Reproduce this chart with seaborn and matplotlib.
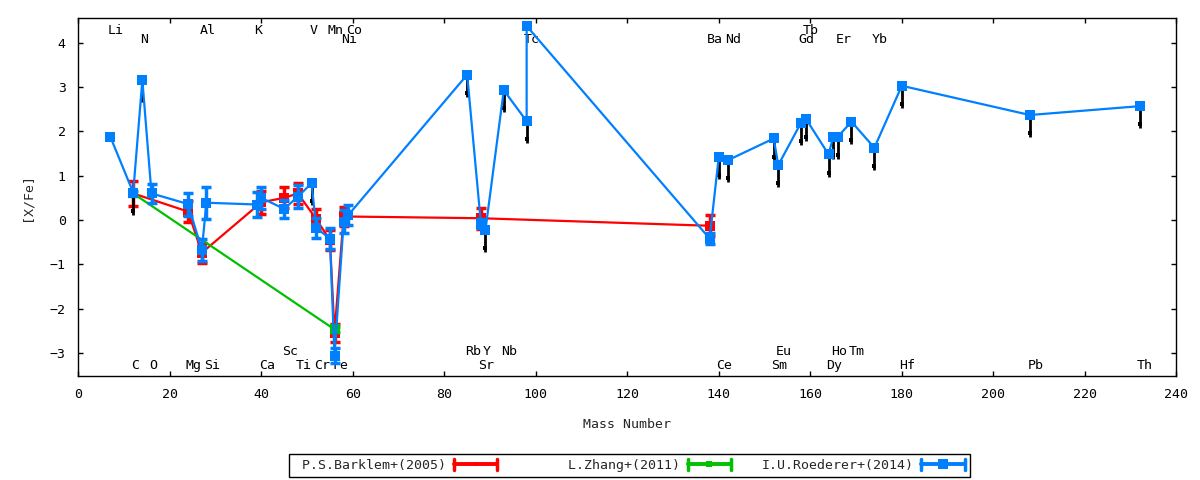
import numpy as np
import pandas as pd
import matplotlib
matplotlib.use("Agg")
import matplotlib.pyplot as plt
import matplotlib.transforms as mtransforms
from matplotlib.lines import Line2D
from matplotlib.legend_handler import HandlerBase
import seaborn as sns

# ---------------- data ----------------
# I.U.Roederer+(2014)
rod_elem = ["Li", "C", "N", "O", "Mg", "Al", "Si", "K", "Ca", "Sc", "Ti", "V", "Cr", "Mn",
            "Fe", "Ni", "Co", "Rb", "Sr", "Y", "Nb", "Mo", "Tc", "Ba", "Ce", "Nd", "Sm",
            "Eu", "Gd", "Tb", "Dy", "Ho", "Er", "Tm", "Yb", "Hf", "Pb", "Th"]
rod_mass = [7, 12, 14, 16, 24, 27, 28, 39, 40, 45, 48, 51, 52, 55,
            56, 58, 59, 85, 88, 89, 93, 98, 98, 138, 140, 142, 152,
            153, 158, 159, 164, 165, 166, 169, 174, 180, 208, 232]
rod_val = [1.88, 0.62, 3.16, 0.60, 0.36, -0.68, 0.39, 0.35, 0.50, 0.25, 0.53, 0.83, -0.18, -0.42,
           -3.06, -0.04, 0.11, 3.28, -0.08, -0.22, 2.93, 2.23, 4.38, -0.42, 1.43, 1.35, 1.84,
           1.24, 2.20, 2.29, 1.48, 1.88, 1.88, 2.22, 1.63, 3.03, 2.37, 2.57]
rod_err = [0, 0, 0, 0.21, 0.26, 0.24, 0.36, 0.28, 0.25, 0.20, 0.27, 0, 0.23, 0.24,
           0.17, 0.26, 0.22, 0, 0.10, 0, 0, 0, 0, 0.12, 0, 0, 0,
           0, 0, 0, 0, 0, 0, 0, 0, 0, 0, 0]
rod_upper = [False, True, True, False, False, False, False, False, False, False, False, True, False, False,
             False, False, False, True, False, True, True, True, False, False, True, True, True,
             True, True, True, True, True, True, True, True, True, True, True]

# P.S.Barklem+(2005)
bar_elem = ["C", "Mg", "Al", "Ca", "Sc", "Ti", "Cr", "Mn", "Fe", "Ni", "Sr", "Ba"]
bar_mass = [12, 24, 27, 40, 45, 48, 52, 55, 56, 58, 88, 138]
bar_val = [0.60, 0.19, -0.74, 0.40, 0.50, 0.60, 0.02, -0.45, -2.55, 0.08, 0.04, -0.13]
bar_err = [0.28, 0.24, 0.22, 0.26, 0.24, 0.24, 0.22, 0.22, 0.20, 0.22, 0.24, 0.24]

# L.Zhang+(2011)
zh_elem = ["C", "Fe"]
zh_mass = [12, 56]
zh_val = [0.60, -2.47]
zh_err = [0.05, 0.05]

# element labels (name, mass) in four rows
lab_top1 = ["Li", "Al", "K", "V", "Mn", "Co", "Tb"]
lab_top1_mass = [7, 27, 39, 51, 55, 59, 159]
lab_top2 = ["N", "Ni", "Tc", "Ba", "Nd", "Gd", "Er", "Yb"]
lab_top2_mass = [14, 58, 98, 138, 142, 158, 166, 174]
lab_bot1 = ["Sc", "Rb", "Y", "Nb", "Eu", "Ho", "Tm"]
lab_bot1_mass = [45, 85, 89, 93, 153, 165, 169]
lab_bot2 = ["C", "O", "Mg", "Si", "Ca", "Ti", "Cr", "Fe", "Sr", "Ce", "Sm", "Dy", "Hf", "Pb", "Th"]
lab_bot2_mass = [12, 16, 24, 28, 40, 48, 52, 56, 88, 140, 152, 164, 180, 208, 232]

legend_labels = ["P.S.Barklem+(2005)", "L.Zhang+(2011)", "I.U.Roederer+(2014)"]

# ---------------- style ----------------
sns.set_theme(style="ticks")
plt.rcParams["font.family"] = ["DejaVu Sans Mono"]
plt.rcParams["font.size"] = 9.5
FS = 9.5

RED = "#ff0000"
GREEN = "#00c000"
BLUE = "#0080ff"
ARROW_LEN = 0.5

fig = plt.figure(figsize=(12, 4.8), dpi=100)
ax = fig.add_axes([78.3 / 1200, (480 - 375.5) / 480, (1176.3 - 78.3) / 1200, (375.5 - 18) / 480])
ax.set_facecolor("white")


def draw_series(mass, val, err, color, z):
    df = pd.DataFrame({"mass": mass, "val": val})
    sns.lineplot(data=df, x="mass", y="val", sort=False, estimator=None, color=color,
                 lw=1.6, marker="s", markersize=7, markeredgewidth=0, ax=ax, zorder=z)
    m = np.array(mass, float)
    v = np.array(val, float)
    e = np.array(err, float)
    sel = e > 0
    ax.errorbar(m[sel], v[sel], yerr=e[sel], fmt="none", ecolor=color, elinewidth=2.5,
                capsize=3.6, capthick=2.5, zorder=z)


draw_series(bar_mass, bar_val, bar_err, RED, 3)
draw_series(zh_mass, zh_val, zh_err, GREEN, 4)

# upper-limit arrows (Roederer)
um = np.array(rod_mass, float)[np.array(rod_upper)]
uv = np.array(rod_val, float)[np.array(rod_upper)]
ax.vlines(um, uv, uv - ARROW_LEN, color="black", lw=2, zorder=4.5)
ax.plot(um, uv - ARROW_LEN * 0.82, ls="none", marker="s", ms=3.5, mew=0, color="black", zorder=4.5)

draw_series(rod_mass, rod_val, rod_err, BLUE, 5)

# element labels
off = mtransforms.offset_copy(ax.transData, fig=fig, x=-2.5, y=0, units="dots")
for names, masses, yv in [(lab_top1, lab_top1_mass, 4.21), (lab_top2, lab_top2_mass, 3.99),
                          (lab_bot1, lab_bot1_mass, -3.05), (lab_bot2, lab_bot2_mass, -3.37)]:
    for n, m in zip(names, masses):
        ax.text(m, yv, n, ha="left", va="baseline", fontsize=FS, color="black",
                transform=off, zorder=1)

ax.set_xlim(0, 240)
ax.set_ylim(-3.51, 4.56)
ax.set_xticks(np.arange(0, 241, 20))
ax.set_yticks(np.arange(-3, 5, 1))
ax.tick_params(direction="in", length=5 * 0.72, width=1, top=True, right=True,
               labelsize=FS, colors="black")
ax.tick_params(axis="x", pad=9)
ax.tick_params(axis="y", pad=9)
for s in ax.spines.values():
    s.set_color("black")
    s.set_linewidth(1)
ax.set_xlabel("Mass Number", fontsize=FS, labelpad=12)
ax.set_ylabel("[X/Fe]", fontsize=FS, labelpad=12)


class ErrHandler(HandlerBase):
    def __init__(self, color, ms):
        super().__init__()
        self.color = color
        self.ms = ms

    def create_artists(self, legend, orig_handle, xdescent, ydescent, width, height, fontsize, trans):
        y = height / 2 - ydescent
        x0 = -xdescent
        x1 = x0 + width
        h = 4
        arts = [
            Line2D([x0, x1], [y, y], color=self.color, lw=2.8),
            Line2D([x0, x0], [y - h, y + h], color=self.color, lw=2.5),
            Line2D([x1, x1], [y - h, y + h], color=self.color, lw=2.5),
            Line2D([(x0 + x1) / 2], [y], marker="s", ms=self.ms, mew=0, color=self.color, ls="none"),
        ]
        for a in arts:
            a.set_transform(trans)
        return arts


h_red = Line2D([], [], color=RED)
h_green = Line2D([], [], color=GREEN)
h_blue = Line2D([], [], color=BLUE)
width = max(len(s) for s in legend_labels)
padded = [s.rjust(width) for s in legend_labels]
leg = fig.legend([h_red, h_green, h_blue], padded, ncol=3, loc="center",
                 bbox_to_anchor=((284.5 + 974.5) / 2 / 1200, 1 - 465.5 / 480),
                 markerfirst=False, fontsize=FS, frameon=True, fancybox=False,
                 edgecolor="black", framealpha=1, borderpad=0.35, handlelength=3.3,
                 handletextpad=0.6, columnspacing=2.3,
                 handler_map={h_red: ErrHandler(RED, 3), h_green: ErrHandler(GREEN, 5),
                              h_blue: ErrHandler(BLUE, 7)})
leg.get_frame().set_linewidth(1)

fig.savefig("out.png", dpi=100, facecolor="white")
